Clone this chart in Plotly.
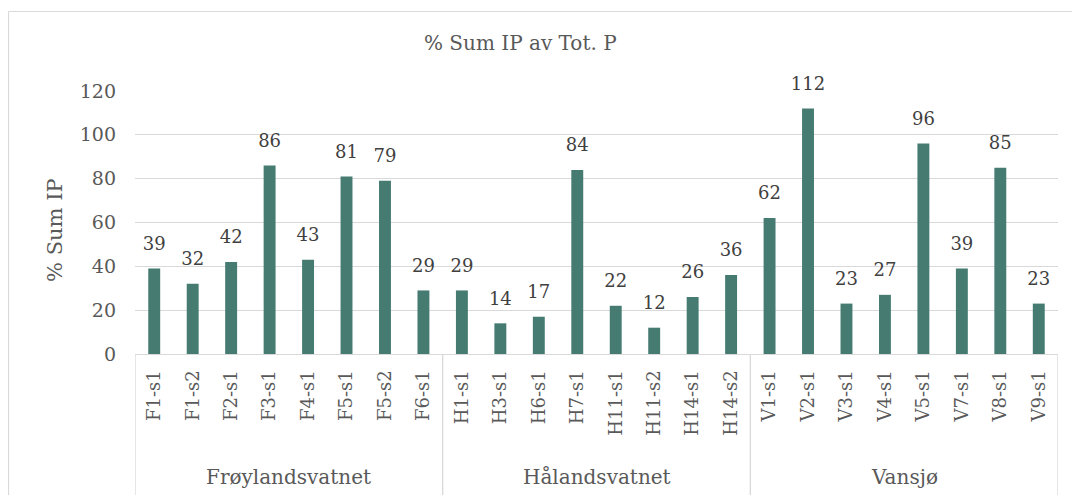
import plotly.graph_objects as go

groups = ["Frøylandsvatnet", "Hålandsvatnet", "Vansjø"]
samples_f = ["F1-s1", "F1-s2", "F2-s1", "F3-s1", "F4-s1", "F5-s1", "F5-s2", "F6-s1"]
samples_h = ["H1-s1", "H3-s1", "H6-s1", "H7-s1", "H11-s1", "H11-s2", "H14-s1", "H14-s2"]
samples_v = ["V1-s1", "V2-s1", "V3-s1", "V4-s1", "V5-s1", "V7-s1", "V8-s1", "V9-s1"]
values_f = [39, 32, 42, 86, 43, 81, 79, 29]
values_h = [29, 14, 17, 84, 22, 12, 26, 36]
values_v = [62, 112, 23, 27, 96, 39, 85, 23]
y_ticks = [0, 20, 40, 60, 80, 100, 120]

samples = samples_f + samples_h + samples_v
values = values_f + values_h + values_v
group_sizes = [len(samples_f), len(samples_h), len(samples_v)]

FONT = "DejaVu Serif"
TXT = "#595959"
BAR = "#467b72"
LINE = "#d9d9d9"

# page body has an 8px margin; screen px = figure px + OFF
OFF = 8
W, H = 1080, 495
L, R, T, B = 135 - OFF, 1080 - (1058 - OFF), 91 - OFF, 495 - (354 - OFF)
pw, ph = W - L - R, H - T - B

def px_x(px):
    return (px - OFF - L) / pw

def px_y(py):
    return (H - B - (py - OFF)) / ph

fig = go.Figure()
fig.add_trace(go.Bar(
    x=samples, y=values,
    marker=dict(color=BAR, line=dict(width=0)),
    hoverinfo="x+y",
))
fig.add_trace(go.Scatter(
    x=samples, y=values, mode="markers+text",
    marker=dict(size=21, color="rgba(0,0,0,0)"),
    text=[str(v) for v in values], textposition="top center",
    textfont=dict(family=FONT, size=18, color="#404040"),
    cliponaxis=False, hoverinfo="skip",
))

shapes = []
border = dict(color=LINE, width=1.2)
bx0, bx1, by0, by1 = px_x(8.5), px_x(1100), px_y(530), px_y(11.5)
shapes.append(dict(type="line", xref="paper", yref="paper", x0=bx0, x1=bx1, y0=by1, y1=by1, line=border))
shapes.append(dict(type="line", xref="paper", yref="paper", x0=bx0, x1=bx0, y0=by0, y1=by1, line=border))
edges = [-0.5]
for n in group_sizes:
    edges.append(edges[-1] + n)
for e in edges:
    shapes.append(dict(type="line", xref="x", yref="paper", x0=e, x1=e,
                       y0=0, y1=px_y(500), line=dict(color=LINE, width=1.3)))

annotations = []
start = 0
for g, n in zip(groups, group_sizes):
    annotations.append(dict(x=start + (n - 1) / 2, y=px_y(477), xref="x", yref="paper",
                            text=g, showarrow=False, yanchor="middle",
                            font=dict(family=FONT, size=20, color=TXT)))
    start += n
annotations.append(dict(x=px_x(520), y=px_y(43), xref="paper", yref="paper",
                        text="% Sum IP av Tot. P", showarrow=False, yanchor="middle",
                        font=dict(family=FONT, size=20, color=TXT)))
annotations.append(dict(x=px_x(55), y=px_y(230), xref="paper", yref="paper",
                        text="% Sum IP", showarrow=False, textangle=-90,
                        xanchor="center", yanchor="middle",
                        font=dict(family=FONT, size=21, color=TXT)))

fig.update_layout(
    width=W, height=H,
    margin=dict(l=L, r=R, t=T, b=B, autoexpand=False),
    paper_bgcolor="white", plot_bgcolor="white",
    bargap=0.69,
    showlegend=False,
    shapes=shapes,
    annotations=annotations,
    font=dict(family=FONT, color=TXT),
    xaxis=dict(type="category", categoryorder="array", categoryarray=samples,
               tickangle=-90, tickfont=dict(family=FONT, size=18, color=TXT),
               showline=True, linecolor=LINE, linewidth=1.3, ticks="",
               ticklabelstandoff=8, automargin=False,
               showgrid=False, range=[-0.5, len(samples) - 0.5]),
    yaxis=dict(range=[0, 120], tickvals=y_ticks, showgrid=True, gridcolor=LINE,
               gridwidth=1.3, zeroline=False, showline=False, ticks="",
               ticklabelstandoff=18, automargin=False,
               tickfont=dict(family=FONT, size=19, color=TXT)),
)

fig.write_html("out.html")
